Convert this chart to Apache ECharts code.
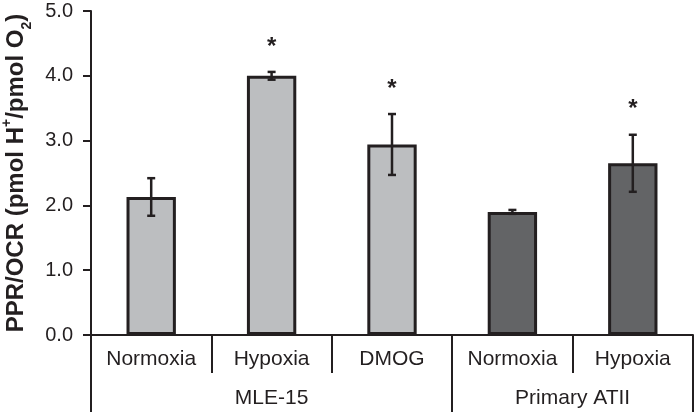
<!DOCTYPE html>
<html>
<head>
<meta charset="utf-8">
<script src="https://cdn.jsdelivr.net/npm/echarts@6/dist/echarts.min.js"></script>
<style>
html,body{margin:0;padding:0;background:#fff;}
#main{width:696px;height:412px;}
</style>
</head>
<body>
<div id="main"></div>
<script>
const categories = ['Normoxia', 'Hypoxia', 'DMOG', 'Normoxia', 'Hypoxia'];
const groups = ['MLE-15', 'Primary ATII'];
const groupSpans = [3, 2];
const groupColors = ['#bcbec0', '#636466'];
const values = [2.13, 4.00, 2.94, 1.90, 2.65];
const errors = [0.29, 0.06, 0.47, 0.03, 0.44];
const significant = [false, true, true, false, true];
const yTicks = [0, 1, 2, 3, 4, 5];

const ink = '#231f20';
const font = 'Liberation Sans, Arial, sans-serif';

// group boundaries and midpoints
const bounds = [0];
groupSpans.forEach(s => bounds.push(bounds[bounds.length - 1] + s));
const mids = groupSpans.map((s, i) => bounds[i] + s / 2);
const barGroup = [];
groupSpans.forEach((s, g) => { for (let k = 0; k < s; k++) barGroup.push(g); });

const chart = echarts.init(document.getElementById('main'), null, {renderer: 'canvas'});

const option = {
  animation: false,
  backgroundColor: '#fff',
  grid: {left: 91, right: 3, top: 11, bottom: 77, containLabel: false, outerBoundsMode: 'none'},
  xAxis: [
    {
      type: 'category',
      data: categories,
      position: 'bottom',
      boundaryGap: true,
      axisLine: {show: true, lineStyle: {color: ink, width: 2}},
      axisTick: {show: true, interval: 0, length: 38, lineStyle: {color: ink, width: 2}},
      axisLabel: {interval: 0, margin: 14, fontSize: 21, color: ink, fontFamily: font}
    },
    {
      type: 'value',
      min: 0,
      max: bounds[bounds.length - 1],
      position: 'bottom',
      axisLine: {show: false},
      splitLine: {show: false},
      axisTick: {show: true, customValues: bounds, length: 77, lineStyle: {color: ink, width: 2}},
      axisLabel: {
        customValues: mids, margin: 53, fontSize: 21, color: ink, fontFamily: font,
        formatter: v => { const i = mids.indexOf(v); return i >= 0 ? groups[i] : ''; }
      }
    }
  ],
  yAxis: {
    type: 'value',
    min: yTicks[0],
    max: yTicks[yTicks.length - 1],
    interval: 1,
    splitLine: {show: false},
    axisLine: {show: true, lineStyle: {color: ink, width: 2}},
    axisTick: {show: true, inside: false, length: 8, lineStyle: {color: ink, width: 2}},
    axisLabel: {fontSize: 20, color: ink, fontFamily: font, margin: 18, formatter: v => v.toFixed(1)},
    name: '{b|PPR/OCR (pmol H}{sup|+}{b|/pmol O}{sub|2}{b|)}',
    nameLocation: 'middle',
    nameRotate: 90,
    nameGap: 55,
    nameTextStyle: {
      rich: {
        b: {fontSize: 24, fontWeight: 'bold', color: ink, fontFamily: font, verticalAlign: 'bottom', lineHeight: 28},
        sup: {fontSize: 14, fontWeight: 'bold', color: ink, fontFamily: font, verticalAlign: 'top', lineHeight: 28, padding: [0, 0, 10, 0]},
        sub: {fontSize: 14, fontWeight: 'bold', color: ink, fontFamily: font, verticalAlign: 'bottom', lineHeight: 28, padding: [0, 0, -6, 0]}
      }
    }
  },
  series: [
    {
      type: 'bar',
      xAxisIndex: 0,
      barWidth: '41%',
      data: values.map((v, i) => ({value: v, itemStyle: {color: groupColors[barGroup[i]]}})),
      itemStyle: {borderColor: ink, borderWidth: 3},
      z: 2
    },
    {
      type: 'custom',
      xAxisIndex: 0,
      data: values.map((v, i) => [i, v - errors[i], v + errors[i], significant[i] ? 1 : 0]),
      z: 5,
      renderItem: function (params, api) {
        const i = api.value(0);
        const lo = api.coord([i, api.value(1)]);
        const hi = api.coord([i, api.value(2)]);
        const cap = 4;
        const st = {stroke: ink, lineWidth: 2.5};
        const children = [
          {type: 'line', shape: {x1: hi[0], y1: hi[1], x2: lo[0], y2: lo[1]}, style: st},
          {type: 'line', shape: {x1: hi[0] - cap, y1: hi[1], x2: hi[0] + cap, y2: hi[1]}, style: st},
          {type: 'line', shape: {x1: lo[0] - cap, y1: lo[1], x2: lo[0] + cap, y2: lo[1]}, style: st}
        ];
        if (api.value(3)) {
          children.push({
            type: 'text',
            style: {text: '*', x: hi[0], y: hi[1] - 25, fill: ink, font: 'bold 24px Liberation Sans, Arial, sans-serif', align: 'center', verticalAlign: 'middle'}
          });
        }
        return {type: 'group', children: children};
      }
    }
  ]
};
chart.setOption(option);
</script>
</body>
</html>
